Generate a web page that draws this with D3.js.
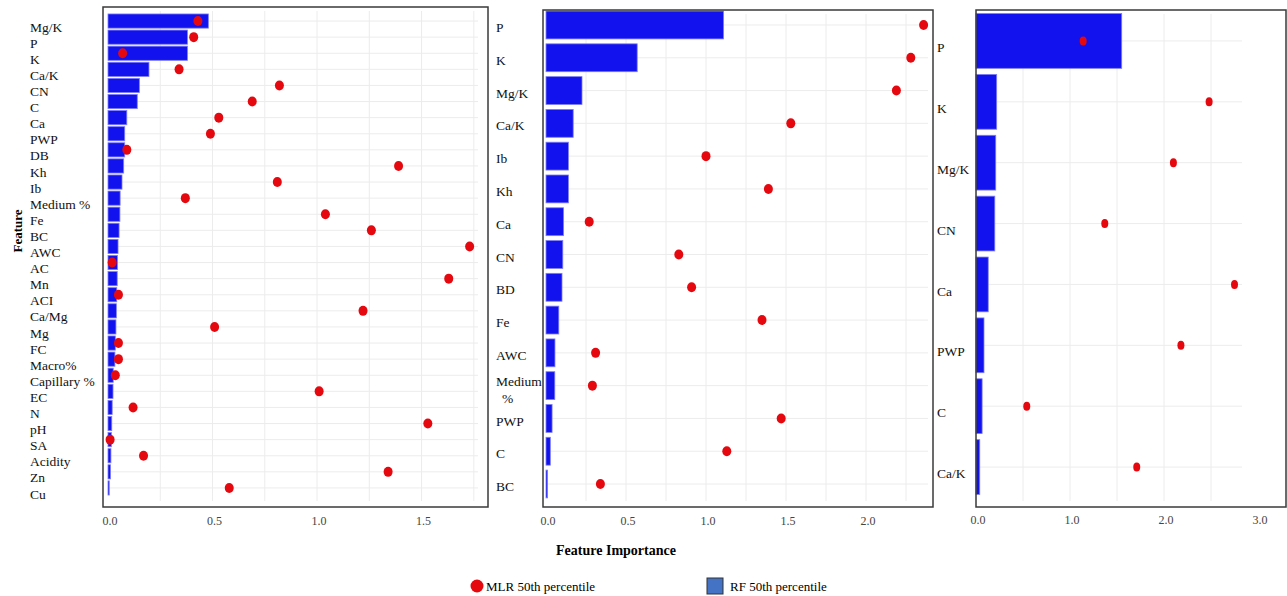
<!DOCTYPE html>
<html>
<head>
<meta charset="utf-8">
<script src="https://d3js.org/d3.v7.min.js"></script>
<style>
  body { margin: 0; background: #fff; }
  svg { font-family: "Liberation Serif", "Times New Roman", serif; }
</style>
</head>
<body>
<svg id="chart" width="1287" height="596"></svg>
<script>
//data
var leftFeatures = ["Mg/K", "P", "K", "Ca/K", "CN", "C", "Ca", "PWP", "DB", "Kh", "Ib", "Medium %", "Fe", "BC", "AWC",
                    "AC", "Mn", "ACI", "Ca/Mg", "Mg", "FC", "Macro%", "Capillary %", "EC", "N", "pH", "SA", "Acidity", "Zn", "Cu"];
var leftRF  = [0.48, 0.38, 0.38, 0.196, 0.15, 0.14, 0.09, 0.08, 0.08, 0.075, 0.067, 0.058, 0.057, 0.053, 0.048,
               0.045, 0.044, 0.042, 0.04, 0.038, 0.035, 0.033, 0.025, 0.024, 0.02, 0.018, 0.016, 0.014, 0.012, 0.006];
var leftMLR = [0.43, 0.41, 0.07, 0.34, 0.82, 0.69, 0.53, 0.49, 0.09, 1.39, 0.81, 0.37, 1.04, 1.26, 1.73,
               0.02, 1.63, 0.05, 1.22, 0.51, 0.05, 0.05, 0.035, 1.01, 0.12, 1.53, 0.01, 0.17, 1.34, 0.58];
var leftTicks = [0, 0.5, 1.0, 1.5];

var midFeatures = ["P", "K", "Mg/K", "Ca/K", "Ib", "Kh", "Ca", "CN", "BD", "Fe", "AWC", "Medium %", "PWP", "C", "BC"];
var midRF  = [1.11, 0.57, 0.225, 0.17, 0.14, 0.14, 0.11, 0.105, 0.10, 0.08, 0.056, 0.055, 0.038, 0.027, 0.01];
var midMLR = [2.36, 2.28, 2.19, 1.53, 1.0, 1.39, 0.27, 0.83, 0.91, 1.35, 0.31, 0.29, 1.47, 1.13, 0.34];
var midTicks = [0, 0.5, 1.0, 1.5, 2.0];

var rightFeatures = ["P", "K", "Mg/K", "CN", "Ca", "PWP", "C", "Ca/K"];
var rightRF  = [1.55, 0.22, 0.21, 0.2, 0.13, 0.085, 0.065, 0.04];
var rightMLR = [1.14, 2.48, 2.10, 1.37, 2.75, 2.18, 0.54, 1.71];
var rightTicks = [0, 1.0, 2.0, 3.0];

var svg = d3.select("#chart");

//panel layout
var panels = [
  {features: leftFeatures, rf: leftRF, mlr: leftMLR, ticks: leftTicks, grid: 0.25,
   frame: [103, 7, 385, 500], x0: 108, x1: 478, xmax: 1.77, y0: 13, y1: 496, pad: 0.12,
   labelX: 30, labelDy: 7.5, rx: 4.5, ry: 5, tickY: 525, gridX1: 478},
  {features: midFeatures, rf: midRF, mlr: midMLR, ticks: midTicks, grid: 0.25,
   frame: [543, 10, 390, 497], x0: 546, x1: 928, xmax: 2.3875, y0: 8.6, y1: 500.4, pad: 0.15,
   labelX: 496, labelDy: 4, rx: 4.5, ry: 5, tickY: 525, gridX1: 928},
  {features: rightFeatures, rf: rightRF, mlr: rightMLR, ticks: rightTicks, grid: 0.5,
   frame: [976, 10, 310, 497], x0: 976, x1: 1258, xmax: 3.0, y0: 10.5, y1: 497.5, pad: 0.1,
   labelX: 937, labelDy: 8, rx: 3.5, ry: 4.5, tickY: 524, gridX1: 1242}
];

panels.forEach(function(p) {
  var x = d3.scaleLinear().domain([0, p.xmax]).range([p.x0, p.x1]);
  var y = d3.scaleBand().domain(p.features).range([p.y0, p.y1]).paddingInner(p.pad).paddingOuter(p.pad / 2);
  var g = svg.append("g");

  //vertical grid
  var gv = d3.range(p.grid, x.invert(p.gridX1) + 0.001, p.grid);
  g.selectAll(".vgrid").data(gv).enter().append("line")
    .attr("x1", function(d) { return x(d); })
    .attr("x2", function(d) { return x(d); })
    .attr("y1", p.frame[1] + 4)
    .attr("y2", p.frame[1] + p.frame[3] - 6)
    .attr("stroke", "#ececec")
    .attr("stroke-width", 1);

  //horizontal grid
  g.selectAll(".hgrid").data(p.features).enter().append("line")
    .attr("x1", p.x0)
    .attr("x2", p.gridX1)
    .attr("y1", function(d) { return y(d) + y.bandwidth() / 2; })
    .attr("y2", function(d) { return y(d) + y.bandwidth() / 2; })
    .attr("stroke", "#ececec")
    .attr("stroke-width", 1);

  //RF bars
  g.selectAll(".bar").data(p.features).enter().append("rect")
    .attr("x", x(0))
    .attr("y", function(d) { return y(d); })
    .attr("width", function(d, i) { return x(p.rf[i]) - x(0); })
    .attr("height", y.bandwidth())
    .attr("fill", "#1212ee")
    .attr("stroke", "#7d7df5")
    .attr("stroke-width", 0.8);

  //MLR dots
  g.selectAll(".dot").data(p.features).enter().append("ellipse")
    .attr("cx", function(d, i) { return x(p.mlr[i]); })
    .attr("cy", function(d) { return y(d) + y.bandwidth() / 2; })
    .attr("rx", p.rx)
    .attr("ry", p.ry)
    .attr("fill", "#e5090f");

  //frame
  g.append("rect")
    .attr("x", p.frame[0]).attr("y", p.frame[1])
    .attr("width", p.frame[2]).attr("height", p.frame[3])
    .attr("fill", "none")
    .attr("stroke", "#3a3a3a")
    .attr("stroke-width", 1.5);

  //feature labels
  g.selectAll(".lab").data(p.features).enter().append("text")
    .attr("x", p.labelX)
    .attr("y", function(d) { return y(d) + y.bandwidth() / 2 + p.labelDy; })
    .attr("dominant-baseline", "middle")
    .attr("font-size", 13.5)
    .attr("fill", "#111")
    .each(function(d) {
      var t = d3.select(this);
      if (p.features.length == 15 && d == "Medium %") {
        t.append("tspan").attr("x", p.labelX).attr("dy", "-0.5em").text("Medium");
        t.append("tspan").attr("x", p.labelX + 6).attr("dy", "1.25em").text("%");
      } else {
        t.text(d);
      }
    });

  //tick labels
  g.selectAll(".tick").data(p.ticks).enter().append("text")
    .attr("x", function(d) { return x(d) + 2; })
    .attr("y", p.tickY)
    .attr("text-anchor", "middle")
    .attr("font-size", 12)
    .attr("fill", "#444")
    .text(function(d) { return d3.format(".1f")(d); });
});

//axis titles
svg.append("text")
  .attr("transform", "translate(22,231) rotate(-90)")
  .attr("text-anchor", "middle")
  .attr("font-size", 13)
  .attr("font-weight", "bold")
  .text("Feature");

svg.append("text")
  .attr("x", 616).attr("y", 555)
  .attr("text-anchor", "middle")
  .attr("font-size", 14)
  .attr("font-weight", "bold")
  .text("Feature Importance");

//legend
svg.append("circle").attr("cx", 477).attr("cy", 586).attr("r", 6.5).attr("fill", "#e5090f");
svg.append("text").attr("x", 486).attr("y", 591).attr("font-size", 13).text("MLR 50th percentile");
svg.append("rect").attr("x", 707).attr("y", 578).attr("width", 16).attr("height", 16)
  .attr("fill", "#4472c4").attr("stroke", "#333").attr("stroke-width", 1);
svg.append("text").attr("x", 730).attr("y", 591).attr("font-size", 13).text("RF 50th percentile");
</script>
</body>
</html>
